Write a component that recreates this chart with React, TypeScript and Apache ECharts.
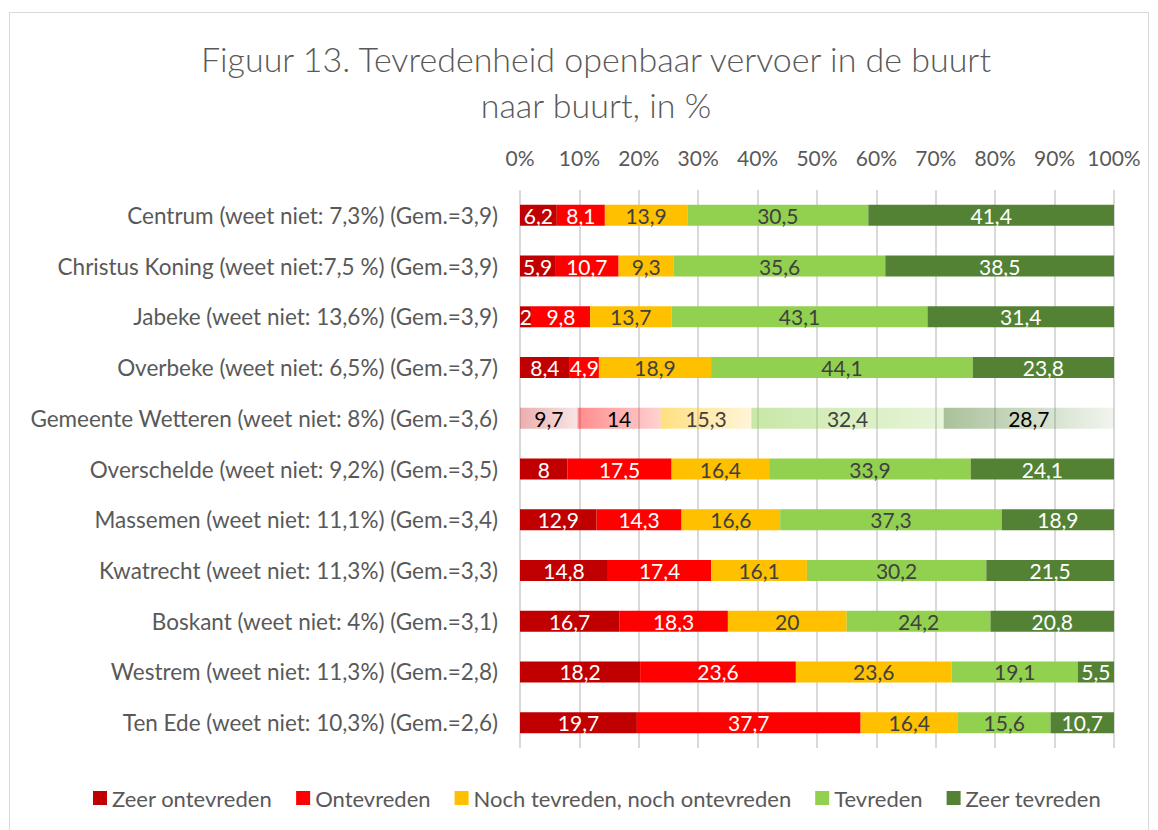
import React, { useEffect, useRef } from "react";
import * as echarts from "echarts";

const categories = [
  "Centrum (weet niet: 7,3%) (Gem.=3,9)",
  "Christus Koning (weet niet:7,5 %) (Gem.=3,9)",
  "Jabeke (weet niet: 13,6%) (Gem.=3,9)",
  "Overbeke (weet niet: 6,5%) (Gem.=3,7)",
  "Gemeente Wetteren (weet niet: 8%) (Gem.=3,6)",
  "Overschelde (weet niet: 9,2%) (Gem.=3,5)",
  "Massemen (weet niet: 11,1%) (Gem.=3,4)",
  "Kwatrecht (weet niet: 11,3%) (Gem.=3,3)",
  "Boskant (weet niet: 4%) (Gem.=3,1)",
  "Westrem (weet niet: 11,3%) (Gem.=2,8)",
  "Ten Ede (weet niet: 10,3%) (Gem.=2,6)",
];

const seriesNames = [
  "Zeer ontevreden",
  "Ontevreden",
  "Noch tevreden, noch ontevreden",
  "Tevreden",
  "Zeer tevreden",
];

const zeerOntevreden = [6.2, 5.9, 2, 8.4, 9.7, 8, 12.9, 14.8, 16.7, 18.2, 19.7];
const ontevreden = [8.1, 10.7, 9.8, 4.9, 14, 17.5, 14.3, 17.4, 18.3, 23.6, 37.7];
const noch = [13.9, 9.3, 13.7, 18.9, 15.3, 16.4, 16.6, 16.1, 20, 23.6, 16.4];
const tevreden = [30.5, 35.6, 43.1, 44.1, 32.4, 33.9, 37.3, 30.2, 24.2, 19.1, 15.6];
const zeerTevreden = [41.4, 38.5, 31.4, 23.8, 28.7, 24.1, 18.9, 21.5, 20.8, 5.5, 10.7];

const xTicks = [0, 10, 20, 30, 40, 50, 60, 70, 80, 90, 100];

const colors = ["#C00000", "#FF0000", "#FFC000", "#92D050", "#548235"];
const labelColors = ["#ffffff", "#ffffff", "#404040", "#404040", "#ffffff"];
const highlightIndex = 4;
const gradStart = [
  "rgba(192,0,0,0.32)",
  "rgba(255,0,0,0.45)",
  "rgba(255,192,0,0.5)",
  "rgba(146,208,80,0.5)",
  "rgba(84,130,53,0.5)",
];
const gradEnd = [
  "rgba(192,0,0,0.1)",
  "rgba(255,0,0,0.18)",
  "rgba(255,192,0,0.15)",
  "rgba(146,208,80,0.22)",
  "rgba(84,130,53,0.08)",
];
const highlightLabelColors = ["#000000", "#000000", "#404040", "#404040", "#000000"];

const FONT = "Lato, 'Open Sans', sans-serif";

export default function App() {
  const ref = useRef<HTMLDivElement>(null);
  useEffect(() => {
    if (!ref.current) return;
    const chart = echarts.init(ref.current, null, { renderer: "svg" });
    const all = [zeerOntevreden, ontevreden, noch, tevreden, zeerTevreden];
    const totals = categories.map((_, i) => all.reduce((s, arr) => s + arr[i], 0));
    const series = all.map((vals, si) => ({
      name: seriesNames[si],
      type: "bar",
      stack: "total",
      barWidth: 21,
      itemStyle: { color: colors[si] },
      label: {
        show: true,
        position: "inside",
        color: labelColors[si],
        fontSize: 21,
        fontFamily: FONT,
        formatter: (p: any) => String(vals[p.dataIndex]).replace(".", ","),
      },
      data: vals.map((v, i) => {
        const share = (v / totals[i]) * 100;
        return i === highlightIndex
          ? {
              value: share,
              itemStyle: {
                color: new echarts.graphic.LinearGradient(0, 0, 1, 0, [
                  { offset: 0, color: gradStart[si] },
                  { offset: 1, color: gradEnd[si] },
                ]),
              },
              label: { color: highlightLabelColors[si] },
            }
          : share;
      }),
    }));
    chart.setOption({
      animation: false,
      color: colors,
      title: {
        text: "Figuur 13. Tevredenheid openbaar vervoer in de buurt\nnaar buurt, in %",
        left: 591,
        top: 30,
        textAlign: "center",
        textStyle: {
          fontFamily: "Lato, 'Open Sans', sans-serif",
          fontWeight: 300,
          fontSize: 34,
          lineHeight: 46,
          color: "#595959",
        },
      },
      legend: {
        bottom: 16,
        left: 88,
        itemWidth: 14,
        itemHeight: 14,
        itemGap: 24,
        icon: "rect",
        textStyle: { fontSize: 22, color: "#595959", fontFamily: FONT },
        data: seriesNames,
      },
      grid: { left: 520, right: 44, top: 190, bottom: 82, containLabel: false },
      xAxis: {
        type: "value",
        position: "top",
        min: 0,
        max: 100,
        interval: 10,
        axisLine: { show: false },
        axisTick: { show: false },
        splitLine: { lineStyle: { color: "#d9d9d9", width: 2 } },
        axisLabel: {
          formatter: (v: number) => (xTicks.includes(v) ? v + "%" : ""),
          fontSize: 21,
          color: "#595959",
          fontFamily: FONT,
          margin: 22,
        },
      },
      yAxis: {
        type: "category",
        inverse: true,
        data: categories,
        axisLine: { show: false },
        axisTick: { show: false },
        axisLabel: { fontSize: 22.5, color: "#595959", fontFamily: FONT, margin: 22 },
      },
      series,
    });
    return () => chart.dispose();
  }, []);
  return (
    <div style={{ position: "fixed", left: 0, top: 0, width: 1158, height: 830, background: "#fff" }}>
      <div
        style={{
          position: "absolute",
          left: 9,
          top: 12,
          width: 1140,
          height: 830,
          border: "1px solid #d9d9d9",
          boxSizing: "border-box",
        }}
      />
      <div ref={ref} style={{ position: "absolute", left: 0, top: 0, width: 1158, height: 830 }} />
    </div>
  );
}
